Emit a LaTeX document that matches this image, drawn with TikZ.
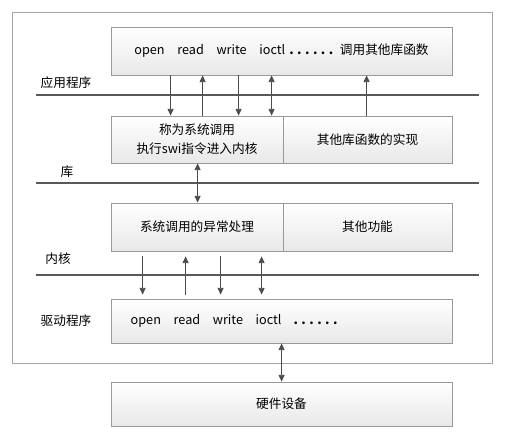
\documentclass[tikz,border=0pt]{standalone}
\usepackage{fontspec}
\setmainfont{Noto Sans CJK SC}
\usepackage{tikz}
\usetikzlibrary{arrows.meta,fit,calc}

\newcommand{\dotrow}{\textbf{.\hspace{2.6pt}.\hspace{2.6pt}.\hspace{2.6pt}.\hspace{2.6pt}.\hspace{2.6pt}.}}

\tikzset{
  frame/.style={draw=gray!70, line width=0.7pt, inner sep=0pt},
  box/.style={draw=gray!80, line width=0.6pt, top color=white, bottom color=gray!18, inner sep=0pt},
  layer/.style={gray!70!black, line width=1.5pt},
  tip/.tip={Triangle[length=5pt,width=4.5pt]},
  arr/.style={gray!60!black, line width=0.6pt, -tip},
  twoway/.style={gray!60!black, line width=0.6pt, tip-tip},
}

\begin{document}
\begin{tikzpicture}[x=0.75pt, y=-0.75pt, font=\fontsize{9.5}{14}\selectfont]
  \fill[white] (0,0) rectangle (509,441);
  \node[frame, fit={(12,12) (492,363)}] (os) {};
  % layer separators
  \draw[layer] (36,95) -- (479,95);
  \draw[layer] (36,183) -- (479,183);
  \draw[layer] (36,275) -- (479,275);
  \node (appname) at (66,83) {应用程序};
  \node (libname) at (67,172) {库};
  \node (kername) at (58,259) {内核};
  \node (drvname) at (66,321) {驱动程序};

  % boxes
  \node[box, fit={(111,27) (452,75)}] (app) {};
  \node[box, fit={(111,116) (283,163)}] (libsys) {};
  \node[box, fit={(283,116) (452,163)}] (libext) {};
  \node[box, fit={(111,203) (283,251)}] (kersys) {};
  \node[box, fit={(283,203) (452,251)}] (kerext) {};
  \node[box, fit={(111,299) (452,343)}] (drv) {};
  \node[box, fit={(111,382) (452,426)}] (hw) {};

  \node (apptext) at (app.center) {open\quad read\quad write\quad ioctl\hspace{3pt}\dotrow\hspace{5pt}调用其他库函数};
  \node[align=center] (libsystext) at (libsys.center) {称为系统调用\\执行swi指令进入内核};
  \node (libexttext) at (libext.center) {其他库函数的实现};
  \node (kersystext) at (kersys.center) {系统调用的异常处理};
  \node (kerexttext) at (kerext.center) {其他功能};
  \node[anchor=west] (drvtext) at (126,321) {open\quad read\quad write\quad ioctl\hspace{9pt}\dotrow};
  \node (hwtext) at (hw.center) {硬件设备};

  % app <-> lib
  \foreach \dx in {60,128}
    \draw[arr] ($(app.south west)+(\dx,0)$) -- ($(libsys.north west)+(\dx,0)$);
  \draw[arr] ($(libsys.north west)+(92,0)$) -- ($(app.south west)+(92,0)$);
  \draw[twoway] ($(libsys.north west)+(161,0)$) -- ($(app.south west)+(161,0)$);
  \draw[arr] ($(libext.north west)+(84,0)$) -- ($(app.south west)+(256,0)$);
  % lib <-> kernel
  \draw[twoway] ($(libsys.south west)+(87,0)$) -- ($(kersys.north west)+(87,0)$);
  % kernel <-> driver
  \foreach \dx in {32,110}
    \draw[arr] ($(kersys.south west)+(\dx,5)$) -- ($(drv.north west)+(\dx,-4)$);
  \draw[arr] ($(drv.north west)+(75,-4)$) -- ($(kersys.south west)+(75,5)$);
  \draw[twoway] ($(drv.north west)+(151,-4)$) -- ($(kersys.south west)+(151,5)$);
  % driver <-> hardware
  \draw[twoway] ($(drv.south west)+(171,0)$) -- ($(hw.north west)+(171,0)$);
\end{tikzpicture}
\end{document}
